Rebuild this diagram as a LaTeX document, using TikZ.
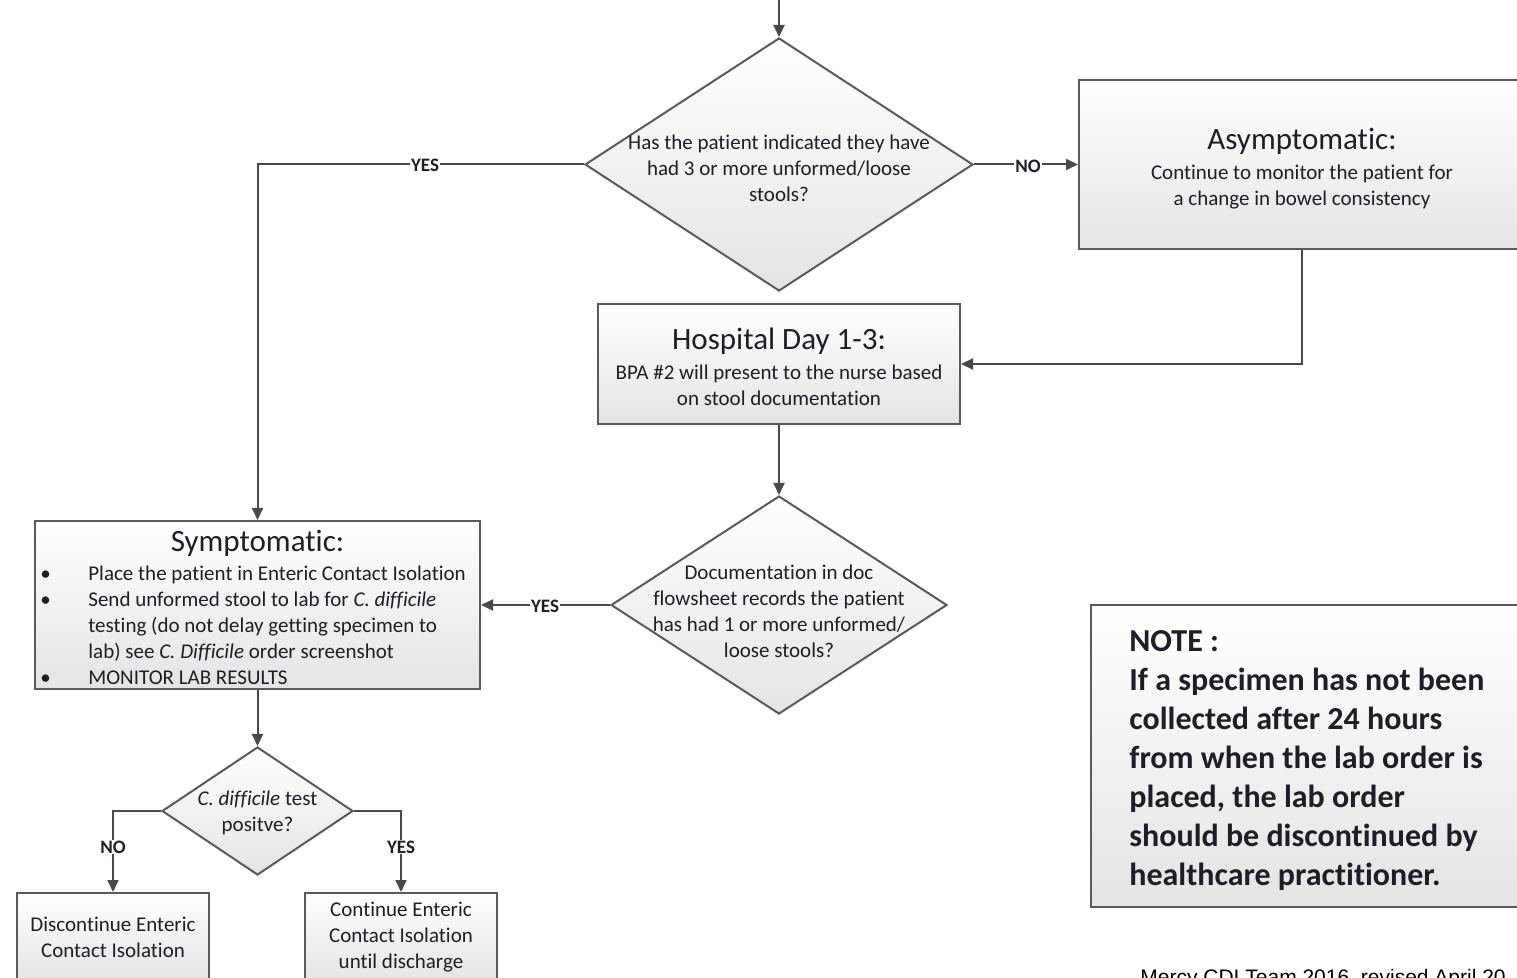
\documentclass[tikz,border=0pt]{standalone}
\usepackage{fontspec}
\setmainfont[Ligatures=NoCommon]{Carlito}
\newfontfamily\arialf{Liberation Sans}
\usetikzlibrary{shapes.geometric,arrows.meta}
\definecolor{bordc}{HTML}{5A5A5A}
\definecolor{linec}{HTML}{4A4A4A}
\definecolor{txtc}{HTML}{1E1E28}
\definecolor{shadec}{HTML}{E4E4E4}
\newcommand{\tfont}{\fontsize{15.5}{18}\selectfont}
\tikzset{
  box/.style={draw=bordc, line width=1pt, top color=white, bottom color=shadec,
    rectangle, align=center, inner sep=0pt, text=txtc},
  dia/.style={draw=bordc, line width=1pt, top color=white, bottom color=shadec,
    diamond, inner sep=0pt},
  dtext/.style={align=center, text=txtc, inner sep=0pt},
  conn/.style={draw=linec, line width=1pt, -{Triangle[length=6pt,width=5.5pt]}},
  lab/.style={fill=white, inner sep=0.6pt, font=\bfseries\fontsize{9.5}{11}\selectfont, text=txtc},
}
\begin{document}
\begin{tikzpicture}[x=0.5pt,y=-0.5pt, font=\fontsize{10.5}{13}\selectfont]
\useasboundingbox (0,0) rectangle (1517,978);
\clip (0,0) rectangle (1517,978);
\fill[white] (0,0) rectangle (1517,978);

% shapes
\node[dia, minimum width=194pt, minimum height=126.5pt] (d1) at (779,164.5) {};
\node[dtext] (d1t) at (779,168) {Has the patient indicated they have\\had 3 or more unformed/loose\\stools?};

\node[box, minimum width=223pt, minimum height=84.5pt] (asym) at (1302,164.5) {};
\node[dtext] (asymt) at (1302,168.5)
  {{\tfont Asymptomatic:}\\[2pt]Continue to monitor the patient for\\a change in bowel consistency};

\node[box, minimum width=181pt, minimum height=60pt] (hosp) at (779,364) {};
\node[dtext] (hospt) at (779,367)
  {{\tfont Hospital Day 1-3:}\\[2pt]BPA \#2 will present to the nurse based\\on stool documentation};

\node[dia, minimum width=168pt, minimum height=109pt] (d2) at (779,605) {};
\node[dtext] (d2t) at (779,611) {Documentation in doc\\flowsheet records the patient\\has had 1 or more unformed/\\loose stools?};

\node[box, minimum width=222.5pt, minimum height=84pt] (symp) at (257.5,605) {};
\node[dtext] (sympt) at (257.5,543) {\tfont Symptomatic:};
\node[anchor=north west, inner sep=0pt, text=txtc, align=left] (sympl) at (40,562)
  {\begin{tabular}{@{}p{24pt}@{}l@{}}
   \textbullet & Place the patient in Enteric Contact Isolation\\
   \textbullet & Send unformed stool to lab for \textit{C. difficile}\\
               & testing (do not delay getting specimen to\\
               & lab) see \textit{C. Difficile} order screenshot\\
   \textbullet & MONITOR LAB RESULTS
   \end{tabular}};

\node[dia, minimum width=95.5pt, minimum height=64pt] (d3) at (257.5,811) {};
\node[dtext] (d3t) at (257.5,813) {\textit{C. difficile} test\\positve?};

\node[box, minimum width=96pt, minimum height=44pt] (disc) at (113,937)
  {Discontinue Enteric\\Contact Isolation};
\node[box, minimum width=96pt, minimum height=44pt] (cont) at (401,937)
  {Continue Enteric\\Contact Isolation\\until discharge};

\node[box, minimum width=217pt, minimum height=151pt] (note) at (1308,756) {};
\node[anchor=west, align=left, inner sep=0pt, text=txtc,
  font=\bfseries\fontsize{16}{19.5}\selectfont] (notet) at (1129,761)
  {NOTE :\\If a specimen has not been\\collected after 24 hours\\from when the lab order is\\placed, the lab order\\should be discontinued by\\healthcare practitioner.};

\node[anchor=base west, inner sep=0pt, text=black, font=\arialf\fontsize{10.5}{12}\selectfont] (foot) at (1140,984)
  {Mercy CDI Team 2016, revised April 20};

% connectors
\coordinate (top) at (779,-4);
\draw[conn] (top) -- (d1.north);
\draw[conn] (d1.west) -| (symp.north);
\draw[conn] (d1.east) -- (asym.west);
\draw[conn] (asym.south) |- (hosp.east);
\draw[conn] (hosp.south) -- (d2.north);
\draw[conn] (d2.west) -- (symp.east);
\draw[conn] (symp.south) -- (d3.north);
\draw[conn] (d3.west) -| (disc.north);
\draw[conn] (d3.east) -| (cont.north);

% labels
\node[lab] (l1) at (425,165) {YES};
\node[lab] (l2) at (1028,166) {NO};
\node[lab] (l3) at (545,606) {YES};
\node[lab] (l4) at (113,847) {NO};
\node[lab] (l5) at (401,847) {YES};
\end{tikzpicture}
\end{document}
